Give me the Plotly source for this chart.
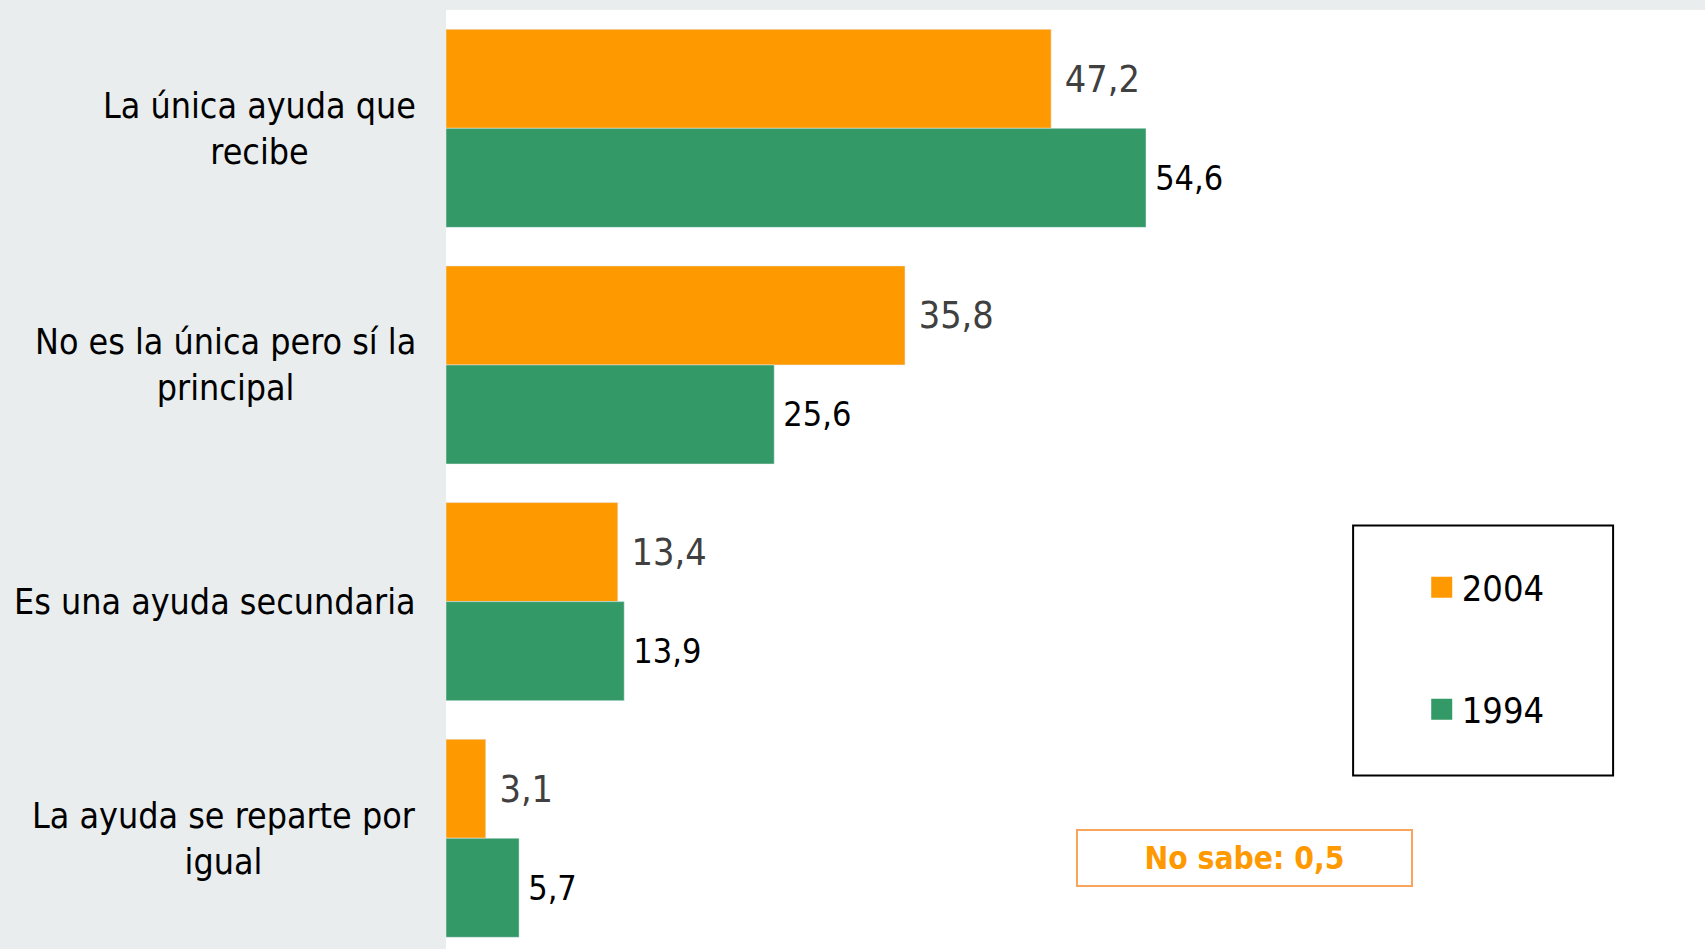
import plotly.graph_objects as go

categorias = [
    "La única ayuda que<br>recibe",
    "No es la única pero sí la<br>principal",
    "Es una ayuda secundaria",
    "La ayuda se reparte por<br>igual",
]
valores_2004 = [47.2, 35.8, 13.4, 3.1]
valores_1994 = [54.6, 25.6, 13.9, 5.7]
no_sabe = "No sabe: 0,5"

NARANJA = "#FF9900"
VERDE = "#339966"
FUENTE = "DejaVu Sans Condensed, Liberation Sans Narrow, DejaVu Sans, sans-serif"

fig = go.Figure()
fig.add_bar(y=categorias, x=valores_2004, orientation="h", name="2004",
            marker_color=NARANJA, showlegend=False,
            texttemplate="\u00a0%{x:.1f}", textposition="outside",
            textfont=dict(size=37.5, color="#404040", family=FUENTE),
            cliponaxis=False)
fig.add_bar(y=categorias, x=valores_1994, orientation="h", name="1994",
            marker_color=VERDE, showlegend=False,
            texttemplate="\u2009%{x:.1f}", textposition="outside",
            textfont=dict(size=34, color="#000000", family=FUENTE),
            cliponaxis=False)

# entradas de leyenda con cuadrados grandes
for nombre, color in [("2004", NARANJA), ("1994", VERDE)]:
    fig.add_scatter(x=[None], y=[None], mode="markers", name=nombre,
                    legendgroup=nombre,
                    marker=dict(symbol="square", size=16, color=color,
                                line=dict(color=color, width=5)))

# etiquetas de categoria centradas
for cat in categorias:
    fig.add_annotation(x=0, xref="paper", y=cat, yref="y", text=cat,
                       showarrow=False, xanchor="right", yanchor="middle",
                       align="center", xshift=-28,
                       font=dict(size=35.5, color="#000000", family=FUENTE))

fig.add_annotation(x=0.6339, y=0.0964, xref="paper", yref="paper",
                   xanchor="center", yanchor="middle",
                   text="<b>" + no_sabe + "</b>", showarrow=False,
                   font=dict(size=31.5, color=NARANJA, family=FUENTE),
                   width=333, height=54, borderpad=0,
                   bordercolor="#F9A45C", borderwidth=2, bgcolor="white")

fig.add_shape(type="rect", xref="paper", yref="paper",
              x0=0.7205, x1=0.927, y0=0.1847, y1=0.4509,
              line=dict(color="black", width=2), fillcolor="rgba(0,0,0,0)")

fig.update_layout(
    width=1705, height=949,
    margin=dict(l=446, r=0, t=10, b=0),
    paper_bgcolor="#E9EDEE", plot_bgcolor="white",
    barmode="group", bargap=0.163, bargroupgap=0,
    separators=",.",
    font=dict(family=FUENTE),
    legend=dict(x=0.775, y=0.417, xanchor="left", yanchor="top",
                bgcolor="rgba(0,0,0,0)", borderwidth=0,
                tracegroupgap=72, font=dict(size=36, color="black")),
)
fig.update_xaxes(range=[0, 98.2], showgrid=False, zeroline=False,
                 showticklabels=False, showline=False)
fig.update_yaxes(range=[3.468, -0.5], showgrid=False, showticklabels=False,
                 showline=False, ticks="")

fig.write_html("out.html", config={"displayModeBar": False},
               post_script="document.body.style.margin='0';document.body.style.overflow='hidden';")
